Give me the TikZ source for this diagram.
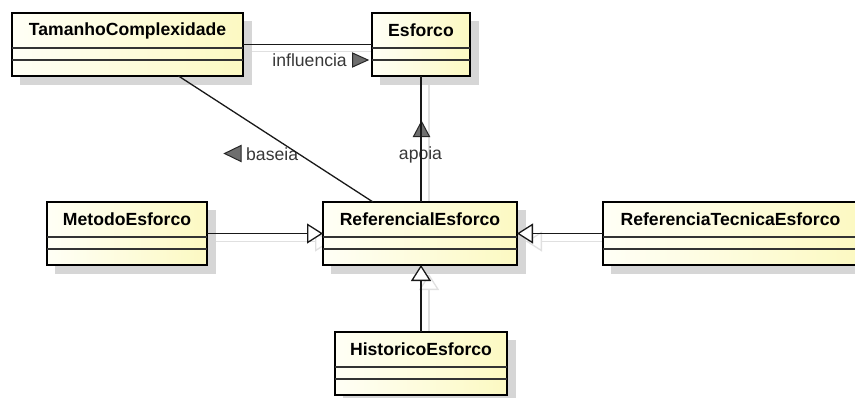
\documentclass[tikz,border=0pt]{standalone}
\usepackage{fontspec}
\setmainfont{Liberation Sans}
\usetikzlibrary{arrows.meta}

\definecolor{boxlight}{HTML}{FFFFF6}
\definecolor{boxdark}{HTML}{FCF9C2}
\definecolor{shadowgray}{HTML}{D6D6D6}
\definecolor{lineshade}{HTML}{E0E0E0}
\definecolor{labelgray}{HTML}{383838}
\definecolor{headgray}{HTML}{6E6E6E}

\tikzset{
  umlclass/.style={draw=black, line width=2.4pt, left color=boxlight, right color=boxdark,
    inner sep=0pt, outer sep=0pt, minimum height=63pt},
  classshadow/.style={fill=shadowgray},
  classname/.style={font=\fontsize{17.6}{20}\selectfont\bfseries, text=black, inner sep=0pt},
  divider/.style={draw=black!80, line width=1.3pt},
  assoc/.style={draw=black!90, line width=1.3pt},
  generalize/.style={draw=black!90, line width=1.3pt,
    -{Triangle[length=16pt, width=20pt, fill=white, line width=1.3pt]}},
  lineshadow/.style={draw=lineshade, line width=1.3pt},
  lineshadowgen/.style={draw=lineshade, line width=1.3pt,
    -{Triangle[length=16pt, width=20pt, fill=white, line width=1.3pt]}},
  assoclabel/.style={font=\fontsize{17.6}{20}\selectfont, text=labelgray, inner sep=0pt},
  navhead/.style={fill=headgray, draw=black!85, line width=1pt, line join=miter},
}

% a class: name, centre x, centre y, width, title
\newcommand\classbox[5]{%
  \node[umlclass, minimum width=#4pt] (#1) at (#2,#3) {};
  \draw[divider] ([yshift=-35pt]#1.north west) -- ([yshift=-35pt]#1.north east);
  \draw[divider] ([yshift=-47pt]#1.north west) -- ([yshift=-47pt]#1.north east);
  \node[classname] (#1-name) at ([yshift=-17.5pt]#1.north) {#5};
}

\begin{document}
\begin{tikzpicture}[x=1pt, y=-1pt]
  \useasboundingbox (0,0) rectangle (855,397);
  \fill[white] (0,0) rectangle (855,397);

  % drop shadows of the classes
  \fill[classshadow] (20,21) rectangle (252,85);
  \fill[classshadow] (380,21) rectangle (479,85);
  \fill[classshadow] (55,210) rectangle (216,274);
  \fill[classshadow] (331,210) rectangle (526,274);
  \fill[classshadow] (611,210) rectangle (867,274);
  \fill[classshadow] (343,340) rectangle (516,404);

  % connector shadows
  \draw[lineshadow] (252,51.5) -- (380,51.5);
  \draw[lineshadow] (429,85) -- (429,210);
  \draw[lineshadowgen] (216,241.5) -- (331,241.5);
  \draw[lineshadowgen] (611,241.5) -- (526,241.5);
  \draw[lineshadowgen] (429,340) -- (429,274);

  % classes
  \classbox{tc}{127.5}{44.5}{231}{TamanhoComplexidade}
  \classbox{es}{421}{44.5}{98}{Esforco}
  \classbox{me}{127}{233.5}{160}{MetodoEsforco}
  \classbox{re}{420}{233.5}{194}{ReferencialEsforco}
  \classbox{rt}{730.5}{233.5}{255}{ReferenciaTecnicaEsforco}
  \classbox{hi}{421}{363.5}{172}{HistoricoEsforco}

  % association labels with navigation heads
  \node[assoclabel, anchor=east] (l-inf) at (347,60) {influencia};
  \draw[navhead] (352.5,53) -- (368,60) -- (352.5,67) -- cycle;
  \node[assoclabel, anchor=west] (l-bas) at (246,154) {baseia};
  \draw[navhead] (241,145.5) -- (224.5,153.5) -- (241,161.5) -- cycle;
  \node[assoclabel] (l-apo) at (420.5,155) {apoia};
  \draw[navhead] (413.5,136.5) -- (421.5,121.5) -- (429.5,136.5) -- cycle;

  % associations
  \draw[assoc] (tc.east) -- (es.west);
  \draw[assoc] ([xshift=51pt]tc.south) -- ([xshift=-47pt]re.north);
  \draw[assoc] (es.south) -- (es.south |- re.north);

  % generalizations
  \draw[generalize] (me.east) -- (me.east -| re.west);
  \draw[generalize] (rt.west) -- (rt.west -| re.east);
  \draw[generalize] (hi.north) -- (hi.north |- re.south);
\end{tikzpicture}
\end{document}
